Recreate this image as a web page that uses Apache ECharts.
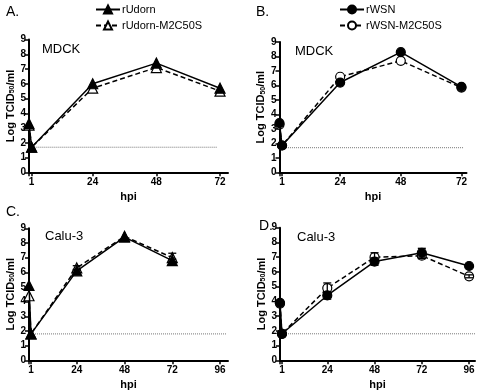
<!DOCTYPE html>
<html>
<head>
<meta charset="utf-8">
<script src="https://cdn.jsdelivr.net/npm/echarts@6/dist/echarts.min.js"></script>
<style>
  html, body { margin: 0; padding: 0; background: #fff; }
  #chart { width: 480px; height: 392px; }
</style>
</head>
<body>
<div id="chart"></div>
<script>
// time points (hours post infection)
const hpiShort = [0, 1, 24, 48, 72];
const hpiLong = [0, 1, 24, 48, 72, 96];
const tickHpiShort = [1, 24, 48, 72];
const tickHpiLong = [1, 24, 48, 72, 96];

// A. MDCK, rUdorn
const udornMdck = [3.3, 1.7, 6.0, 7.4, 5.7];
const udornMutMdck = [3.2, 1.7, 5.7, 7.1, 5.5];
// B. MDCK, rWSN
const wsnMdck = [3.4, 1.85, 6.2, 8.3, 5.9];
const wsnMutMdck = [3.3, 1.85, 6.6, 7.7, 5.85];
// C. Calu-3, rUdorn
const udornCalu = [5.1, 1.8, 6.1, 8.4, 6.8];
const udornMutCalu = [4.4, 1.8, 6.3, 8.45, 7.0];
const udornCaluErr = [0, 0, 0.1, 0.05, 0.1];
const udornMutCaluErr = [0, 0, 0.15, 0.05, 0.3];
// D. Calu-3, rWSN
const wsnCalu = [3.9, 1.8, 4.4, 6.7, 7.3, 6.4];
const wsnMutCalu = [3.85, 1.8, 4.9, 7.0, 7.1, 5.7];
const wsnCaluErr = [0, 0, 0.25, 0.25, 0.3, 0.1];
const wsnMutCaluErr = [0, 0, 0.35, 0.3, 0.2, 0.1];

// detection limit lines [level, from hpi, to hpi]
const lodA = [1.7, 1, 71];
const lodB = [1.7, 1, 73];
const lodC = [1.8, 1, 99];
const lodD = [1.8, 1, 99];

const FONT = "Liberation Sans, Arial, sans-serif";

const panels = [
  { grid: { left: 29, top: 39.5, width: 199, height: 132.8 }, max: 75, ticks: tickHpiShort, lod: lodA },
  { grid: { left: 279.5, top: 42, width: 187, height: 130.3 }, max: 74, ticks: tickHpiShort, lod: lodB },
  { grid: { left: 29, top: 228.3, width: 199, height: 132 }, max: 100, ticks: tickHpiLong, lod: lodC },
  { grid: { left: 280, top: 227.7, width: 195, height: 132.6 }, max: 99, ticks: tickHpiLong, lod: lodD },
];

const pairs = (xs, ys) => ys.map((v, i) => [xs[i], v]);
const errPairs = (xs, ys, es) =>
  ys.map((v, i) => [xs[i], v - es[i], v + es[i], es[i]]).filter((d) => d[3] > 0.06);

function lineSeries(name, idx, xs, ys, symbol, filled, dashed, size) {
  return {
    name: name,
    type: "line",
    xAxisIndex: idx,
    yAxisIndex: idx,
    data: pairs(xs, ys),
    symbol: symbol,
    symbolSize: size,
    showSymbol: true,
    z: filled ? 4 : 3,
    lineStyle: { color: "#000", width: 1.5, type: dashed ? [5, 3] : "solid" },
    itemStyle: { color: filled ? "#000" : "#fff", borderColor: "#000", borderWidth: 1.2 },
    emphasis: { disabled: true },
    animation: false,
  };
}

function errSeries(idx, xs, ys, es) {
  return {
    type: "custom",
    xAxisIndex: idx,
    yAxisIndex: idx,
    data: errPairs(xs, ys, es),
    z: 5,
    silent: true,
    animation: false,
    renderItem: (params, api) => {
      const top = api.coord([api.value(0), api.value(2)]);
      const bot = api.coord([api.value(0), api.value(1)]);
      const st = { stroke: "#000", lineWidth: 1.3 };
      return {
        type: "group",
        children: [
          { type: "line", shape: { x1: top[0], y1: top[1], x2: bot[0], y2: bot[1] }, style: st },
          { type: "line", shape: { x1: top[0] - 4, y1: top[1], x2: top[0] + 4, y2: top[1] }, style: st },
          { type: "line", shape: { x1: bot[0] - 4, y1: bot[1], x2: bot[0] + 4, y2: bot[1] }, style: st },
        ],
      };
    },
  };
}

function lodSeries(idx, lod) {
  return {
    type: "line",
    xAxisIndex: idx,
    yAxisIndex: idx,
    data: [[lod[1], lod[0]], [lod[2], lod[0]]],
    symbol: "none",
    silent: true,
    z: 1,
    lineStyle: { color: "#777", width: 1, type: [1, 1] },
    animation: false,
  };
}

const chart = echarts.init(document.getElementById("chart"), null, { renderer: "canvas" });

const option = {
  backgroundColor: "#fff",
  animation: false,
  textStyle: { fontFamily: FONT },
  title: [
    { text: "A.", left: 1, top: 0, textStyle: { fontSize: 14, fontWeight: "normal", color: "#000" } },
    { text: "B.", left: 251, top: 0, textStyle: { fontSize: 14, fontWeight: "normal", color: "#000" } },
    { text: "C.", left: 1, top: 200, textStyle: { fontSize: 14, fontWeight: "normal", color: "#000" } },
    { text: "D.", left: 254, top: 214, textStyle: { fontSize: 14, fontWeight: "normal", color: "#000" } },
    { text: "MDCK", left: 37, top: 38, textStyle: { fontSize: 13, fontWeight: "normal", color: "#000" } },
    { text: "MDCK", left: 290, top: 40, textStyle: { fontSize: 13, fontWeight: "normal", color: "#000" } },
    { text: "Calu-3", left: 40, top: 225, textStyle: { fontSize: 13, fontWeight: "normal", color: "#000" } },
    { text: "Calu-3", left: 292, top: 226, textStyle: { fontSize: 13, fontWeight: "normal", color: "#000" } },
  ],
  legend: [
    {
      data: ["rUdorn", "rUdorn-M2C50S"],
      orient: "vertical",
      left: 90,
      top: -1,
      itemWidth: 24,
      itemHeight: 10,
      itemGap: 5,
      selectedMode: false,
      textStyle: { fontSize: 11, color: "#000", padding: [0, 0, 0, -3] },
    },
    {
      data: ["rWSN", "rWSN-M2C50S"],
      orient: "vertical",
      left: 334,
      top: -1,
      itemWidth: 24,
      itemHeight: 10,
      itemGap: 5,
      selectedMode: false,
      textStyle: { fontSize: 11, color: "#000", padding: [0, 0, 0, -3] },
    },
  ],
  grid: panels.map((p) => Object.assign({ containLabel: false }, p.grid)),
  xAxis: panels.map((p, i) => ({
    type: "value",
    gridIndex: i,
    min: 0,
    max: p.max,
    name: "hpi",
    nameLocation: "middle",
    nameGap: 19,
    nameTextStyle: { fontSize: 11, fontWeight: "bold", color: "#000" },
    splitLine: { show: false },
    axisLine: { onZero: false, lineStyle: { color: "#000", width: 2 } },
    axisTick: { show: true, customValues: [0].concat(p.ticks), length: 4, lineStyle: { color: "#000", width: 1.5 } },
    axisLabel: { customValues: p.ticks, fontSize: 10, fontWeight: "bold", color: "#000", margin: 5 },
  })),
  yAxis: panels.map((p, i) => ({
    type: "value",
    gridIndex: i,
    min: 0,
    max: 9,
    interval: 1,
    name: "Log TCID{sub|50}/ml",
    nameLocation: "middle",
    nameGap: 13,
    nameRotate: 90,
    nameTextStyle: {
      fontSize: 11,
      fontWeight: "bold",
      color: "#000",
      rich: { sub: { fontSize: 7, fontWeight: "bold", color: "#000", verticalAlign: "bottom", padding: [4, 0, 0, 0] } },
    },
    splitLine: { show: false },
    axisLine: { show: true, lineStyle: { color: "#000", width: 2 } },
    axisTick: { show: true, length: 4, lineStyle: { color: "#000", width: 1.5 } },
    axisLabel: { fontSize: 10, fontWeight: "bold", color: "#000", margin: 3 },
  })),
  series: [
    lodSeries(0, lodA),
    lodSeries(1, lodB),
    lodSeries(2, lodC),
    lodSeries(3, lodD),
    lineSeries("rUdorn-M2C50S", 0, hpiShort, udornMutMdck, "triangle", false, true, 10),
    lineSeries("rUdorn", 0, hpiShort, udornMdck, "triangle", true, false, 10),
    lineSeries("rWSN-M2C50S", 1, hpiShort, wsnMutMdck, "circle", false, true, 9),
    lineSeries("rWSN", 1, hpiShort, wsnMdck, "circle", true, false, 9),
    lineSeries("rUdorn-M2C50S", 2, hpiShort, udornMutCalu, "triangle", false, true, 10),
    lineSeries("rUdorn", 2, hpiShort, udornCalu, "triangle", true, false, 10),
    errSeries(2, hpiShort, udornMutCalu, udornMutCaluErr),
    errSeries(2, hpiShort, udornCalu, udornCaluErr),
    lineSeries("rWSN-M2C50S", 3, hpiLong, wsnMutCalu, "circle", false, true, 9),
    lineSeries("rWSN", 3, hpiLong, wsnCalu, "circle", true, false, 9),
    errSeries(3, hpiLong, wsnMutCalu, wsnMutCaluErr),
    errSeries(3, hpiLong, wsnCalu, wsnCaluErr),
  ],
};

chart.setOption(option);
</script>
</body>
</html>
